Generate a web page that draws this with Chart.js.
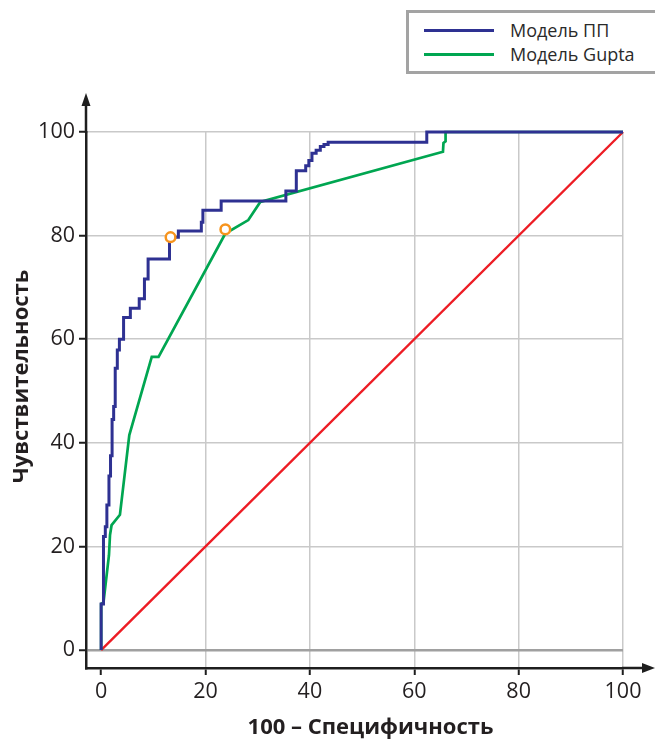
<!DOCTYPE html>
<html>
<head>
<meta charset="utf-8">
<script src="https://cdn.jsdelivr.net/npm/chart.js@4.4.1/dist/chart.umd.min.js"></script>
<style>
  html, body { margin: 0; padding: 0; background: #fff; overflow: hidden; }
  .wrap { position: relative; width: 655px; height: 744px; }
  .legend {
    position: absolute; left: 406px; top: 10px; width: 260px; height: 58px;
    border: 3px solid #a3a3a3; background: #fff; box-sizing: content-box;
    font-family: "Open Sans", sans-serif; font-size: 18px; color: #2a2a2a;
  }
  .legend-item { position: absolute; left: 0; height: 24px; line-height: 24px; }
  .legend-line { position: absolute; left: 15px; top: 11px; width: 70px; height: 3px; }
  .legend-text { position: absolute; left: 101px; top: 0; white-space: nowrap; }
</style>
</head>
<body>
<div class="wrap">
  <canvas id="roc" width="655" height="744"></canvas>
  <div class="legend" id="legend"></div>
</div>
<script>
// ROC: 100 - specificity (x) vs sensitivity (y)
var ppFpr = [0, 0, 0.45, 0.8, 1.1, 1.5, 1.8, 2.1, 2.4, 2.7, 3.1, 3.5, 4.3, 5.6, 7.3, 8.3, 9.0, 13.1, 14.8, 19.2, 19.5, 23.0, 35.4, 37.4, 39.2, 39.8, 40.4, 41.2, 42.0, 42.7, 43.5, 62.4, 100];
var ppTpr = [0, 8.9, 21.9, 23.8, 28, 33.6, 37.5, 44.5, 47, 54.4, 57.9, 60, 64.2, 66, 67.8, 71.6, 75.5, 79.7, 80.9, 82.6, 84.9, 86.7, 88.6, 92.5, 93.5, 94.5, 95.9, 96.5, 97.2, 97.6, 98.0, 100, 100];

var guptaFpr = [0, 0, 0.45, 1.5, 1.7, 2.0, 3.6, 5.4, 9.7, 11.0, 23.8, 28.2, 30.5, 65.5, 65.6, 66.0, 66.0, 100];
var guptaTpr = [0, 8.9, 9.2, 18.3, 22.2, 24.1, 26.1, 41.5, 56.6, 56.6, 80.4, 83.0, 86.5, 96.2, 97.9, 98.2, 100, 100];

var diagFpr = [0, 100];
var diagTpr = [0, 100];

var cutFpr = [13.3, 23.8];
var cutTpr = [79.7, 81.2];

var xTicks = [0, 20, 40, 60, 80, 100];
var yTicks = [0, 20, 40, 60, 80, 100];

var seriesLabels = ["Модель ПП", "Модель Gupta"];
var xTitle = "100 – Специфичность";
var yTitle = "Чувствительность";

function toPoints(xs, ys){
    var out = [];
    for(var i=0;i<xs.length;i++){
        out.push({x: xs[i], y: ys[i]});
    }
    return out;
}

var FONT = '"Open Sans", sans-serif';
var AXIS = '#1e1e1e';

var axisDecor = {
    id: 'axisDecor',
    afterDraw: function(chart){
        var ctx = chart.ctx;
        var a = chart.chartArea;
        var xEnd = a.right + 32;
        var yEnd = a.top - 39;
        ctx.save();
        ctx.strokeStyle = AXIS;
        ctx.fillStyle = AXIS;
        ctx.lineWidth = 2.5;
        ctx.beginPath();
        ctx.moveTo(a.right - 1, a.bottom);
        ctx.lineTo(xEnd - 8, a.bottom);
        ctx.moveTo(a.left, a.top + 1);
        ctx.lineTo(a.left, yEnd + 8);
        ctx.stroke();
        // arrow heads
        ctx.beginPath();
        ctx.moveTo(xEnd, a.bottom);
        ctx.lineTo(xEnd - 13, a.bottom - 5);
        ctx.lineTo(xEnd - 13, a.bottom + 5);
        ctx.closePath();
        ctx.fill();
        ctx.beginPath();
        ctx.moveTo(a.left, yEnd);
        ctx.lineTo(a.left - 4.5, yEnd + 13);
        ctx.lineTo(a.left + 4.5, yEnd + 13);
        ctx.closePath();
        ctx.fill();
        // axis titles
        ctx.fillStyle = '#231f20';
        ctx.font = 'bold 22px ' + FONT;
        ctx.textAlign = 'center';
        ctx.textBaseline = 'middle';
        ctx.fillText(xTitle, (a.left + xEnd) / 2, 728);
        ctx.translate(22, (yEnd + a.bottom) / 2 - 4);
        ctx.rotate(-Math.PI / 2);
        ctx.fillText(yTitle, 0, 0);
        ctx.restore();
    }
};

var chart = new Chart(document.getElementById('roc'), {
    type: 'line',
    data: {
        datasets: [
            {
                label: 'cutoff',
                data: toPoints(cutFpr, cutTpr),
                showLine: false,
                pointRadius: 4.8,
                pointBorderWidth: 2.5,
                pointBorderColor: '#f7941d',
                pointBackgroundColor: '#ffffff',
                clip: false
            },
            {
                label: seriesLabels[0],
                data: toPoints(ppFpr, ppTpr),
                borderColor: '#2e3192',
                borderWidth: 3,
                stepped: 'before',
                pointRadius: 0,
                clip: false
            },
            {
                label: seriesLabels[1],
                data: toPoints(guptaFpr, guptaTpr),
                borderColor: '#00a651',
                borderWidth: 2.7,
                tension: 0,
                pointRadius: 0,
                clip: false
            },
            {
                label: 'diag',
                data: toPoints(diagFpr, diagTpr),
                borderColor: '#ed1c24',
                borderWidth: 2.4,
                pointRadius: 0,
                clip: false
            }
        ]
    },
    options: {
        responsive: false,
        animation: false,
        layout: { padding: { top: 132, right: 32, left: 0, bottom: 0 } },
        plugins: { legend: { display: false }, tooltip: { enabled: false } },
        scales: {
            x: {
                type: 'linear',
                min: -2.9,
                max: 100,
                afterBuildTicks: function(s){ s.ticks = xTicks.map(function(v){ return {value: v}; }); },
                afterFit: function(s){ s.height = 76; },
                grid: {
                    color: function(c){ return c.tick && c.tick.value === 0 ? 'rgba(0,0,0,0)' : '#c9c9c9'; },
                    lineWidth: 1.5,
                    tickColor: AXIS,
                    tickWidth: 2,
                    tickLength: 7
                },
                border: { color: AXIS, width: 2.5 },
                ticks: { color: '#231f20', padding: 4, font: { family: FONT, size: 21.5 } }
            },
            y: {
                type: 'linear',
                min: -3.47,
                max: 100,
                afterBuildTicks: function(s){ s.ticks = yTicks.map(function(v){ return {value: v}; }); },
                afterFit: function(s){ s.width = 86; },
                grid: {
                    color: function(c){ return c.tick && c.tick.value === 0 ? '#a0a0a0' : '#c9c9c9'; },
                    lineWidth: function(c){ return c.tick && c.tick.value === 0 ? 2.5 : 1.5; },
                    tickColor: AXIS,
                    tickWidth: 2,
                    tickLength: 7
                },
                border: { color: AXIS, width: 2.5 },
                ticks: { color: '#231f20', padding: 4, font: { family: FONT, size: 21.5 } }
            }
        }
    },
    plugins: [axisDecor]
});

// legend built from the chart's own datasets
var legendBox = document.getElementById('legend');
var row = 0;
chart.data.datasets.forEach(function(ds){
    if(seriesLabels.indexOf(ds.label) === -1){
        return;
    }
    var item = document.createElement('div');
    item.className = 'legend-item';
    item.style.top = (5 + row * 24) + 'px';
    item.innerHTML = '<span class="legend-line" style="background:' + ds.borderColor + '"></span>' +
        '<span class="legend-text">' + ds.label + '</span>';
    legendBox.appendChild(item);
    row++;
});
</script>
</body>
</html>
